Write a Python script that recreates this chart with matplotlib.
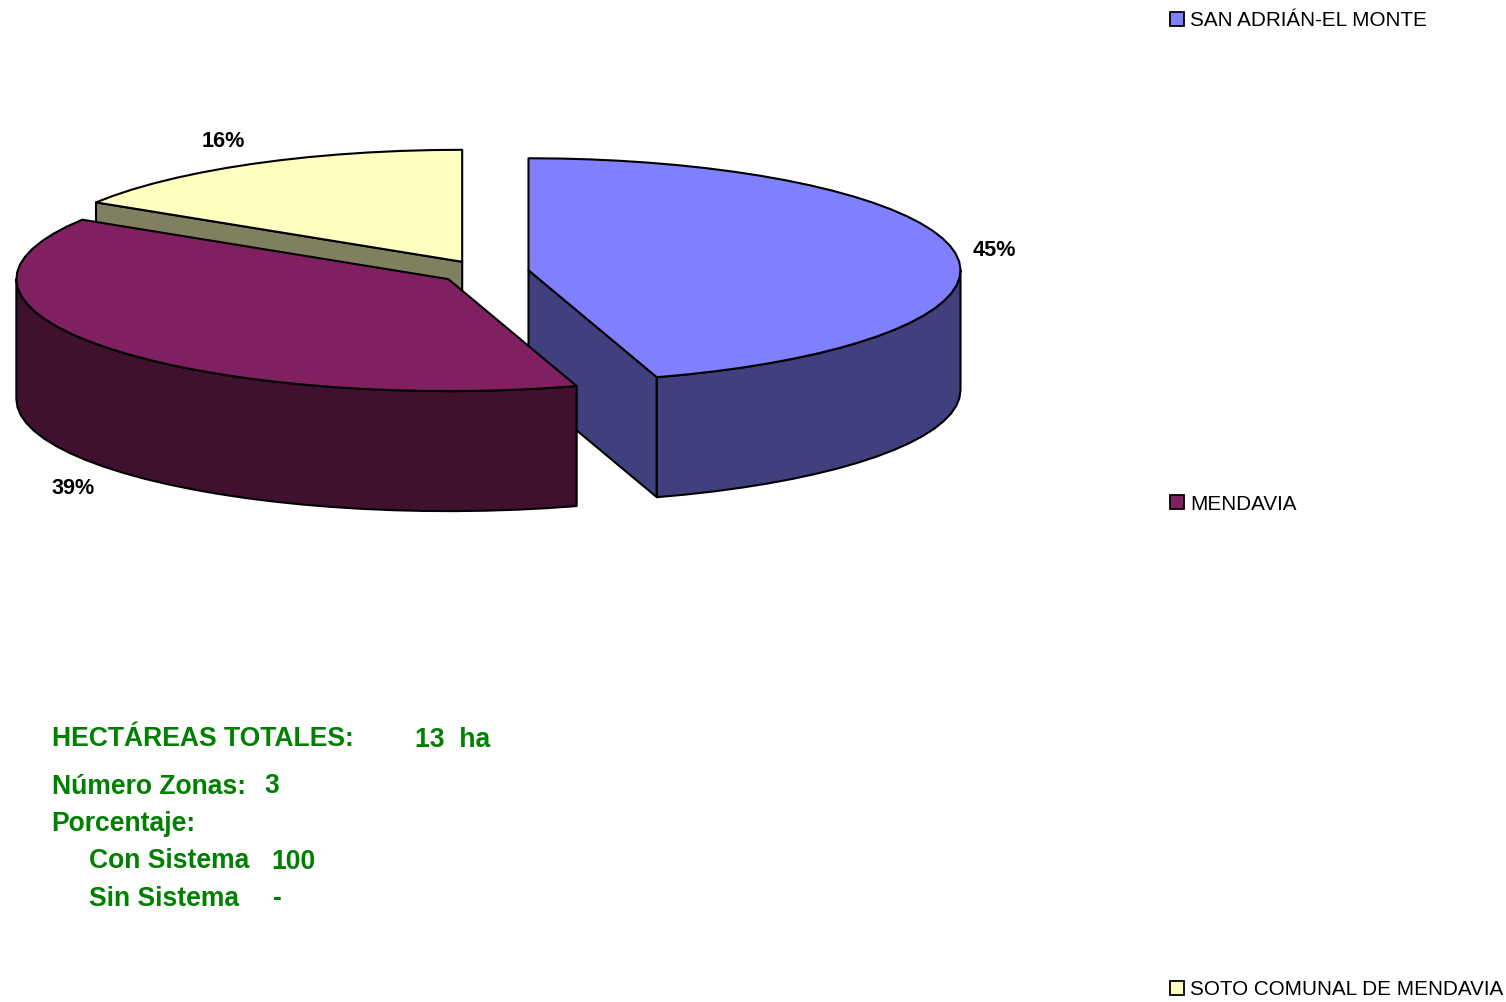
import numpy as np
import matplotlib
matplotlib.use('Agg')
import matplotlib.pyplot as plt
from matplotlib.patches import Polygon, Rectangle

plt.rcParams['font.family'] = ['Liberation Sans', 'DejaVu Sans']

zonas = ['SAN ADRIÁN-EL MONTE', 'MENDAVIA', 'SOTO COMUNAL DE MENDAVIA']
porcentajes = [45.2, 38.7, 16.1]
color_top = ['#8080FF', '#802060', '#FFFFC0']
color_side = ['#40407F', '#40102F', '#808060']

rx, ry = 432, 112
depth = 120
cx, cy = 484, 273
explode = 45
K = ry / rx

# start at 12 o'clock and go clockwise, angles in degrees
ends = 90 - np.cumsum(porcentajes) * 3.6
starts = np.r_[90, ends[:-1]]
mids = (starts + ends) / 2


def centre(i):
    m = np.radians(mids[i])
    return cx + explode * np.cos(m), cy - explode * K * np.sin(m)


def rim(i, a0, a1, dz=0):
    x0, y0 = centre(i)
    n = max(int(abs(a1 - a0) / 4), 1) + 1
    a = np.radians(np.linspace(a0, a1, n))
    return np.c_[x0 + rx * np.cos(a), y0 - ry * np.sin(a) + dz]


def poly(ax, pts, col):
    ax.add_patch(Polygon(pts, closed=True, fc=col, ec='black', lw=1.5, joinstyle='round'))


def cut_face(ax, i, ang):
    c = np.array(centre(i))
    p = rim(i, ang, ang)[0]
    poly(ax, [c, p, p + [0, depth], c + [0, depth]], color_side[i])


def outer_wall(ax, i, a0, a1):
    top = rim(i, a0, a1)
    poly(ax, np.r_[top, rim(i, a1, a0, depth)], color_side[i])


def top_face(ax, i):
    poly(ax, np.r_[[centre(i)], rim(i, starts[i], ends[i])], color_top[i])


fig = plt.figure(figsize=(15.06, 10.03), dpi=100)
ax = fig.add_axes([0, 0, 1, 1])
ax.set_xlim(0, 1506)
ax.set_ylim(1003, 0)
ax.axis('off')

# back to front: yellow, blue, then maroon
cut_face(ax, 2, starts[2])
top_face(ax, 2)
cut_face(ax, 0, ends[0])
outer_wall(ax, 0, 0, ends[0])
top_face(ax, 0)
outer_wall(ax, 1, starts[1], -180)
top_face(ax, 1)

# percent labels
label_pos = [(994, 255.5), (73, 493.5), (223, 146.5)]
for p, (x, y) in zip(porcentajes, label_pos):
    ax.text(x, y, f'{p:.0f}%', ha='center', va='baseline', fontsize=15.6, fontweight='bold', color='black')

# legend, entries spread down the right side
legend_y = [19.5, 503, 989]
for name, col, y in zip(zonas, color_top, legend_y):
    ax.add_patch(Rectangle((1170.5, y - 7), 14, 14, fc=col, ec='black', lw=1.3))
    ax.text(1190, y + 6.5, name, ha='left', va='baseline', fontsize=14.9, color='black')

# summary block
resumen = [
    ('HECTÁREAS TOTALES:', 52, 746),
    ('13  ha', 415, 747),
    ('Número Zonas:', 52, 794),
    ('3', 264, 793),
    ('Porcentaje:', 51.5, 831),
    ('Con Sistema', 89, 868),
    ('100', 271, 869),
    ('Sin Sistema', 89, 906),
    ('-', 273, 906),
]
for txt, x, y in resumen:
    ax.text(x, y, txt, ha='left', va='baseline', fontsize=19.1, fontweight='bold', color='#008000')

fig.savefig('out.png', dpi=100)
